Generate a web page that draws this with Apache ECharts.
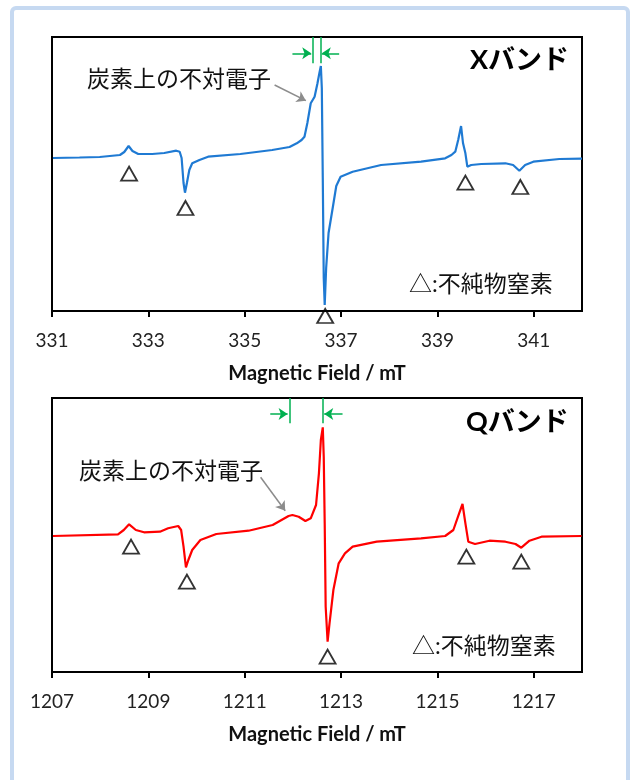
<!DOCTYPE html>
<html>
<head>
<meta charset="utf-8">
<script src="https://cdn.jsdelivr.net/npm/echarts@6/dist/echarts.min.js"></script>
<style>html,body{margin:0;padding:0;background:#fff;}#c{width:630px;height:780px;}</style>
</head>
<body>
<div id="c"></div>
<script>
// ---- X band ----
const xbandField = [331.02,331.57,331.99,332.41,332.50,332.59,332.67,332.79,333.08,333.33,333.58,333.65,333.69,333.73,333.76,333.80,333.85,333.91,334.06,334.24,334.91,335.57,335.93,336.08,336.18,336.24,336.30,336.37,336.45,336.51,336.55,336.58,336.60,336.62,336.64,336.66,336.69,336.74,336.83,336.90,336.99,337.24,337.83,338.66,339.16,339.29,339.37,339.43,339.49,339.53,339.58,339.62,339.70,339.91,340.41,340.57,340.70,340.82,340.99,341.53,342.00];
const xbandSignal = [0,0.5,1,3,6,12,7,4,4,5,7.3,6.3,0,-25,-34.7,-25,-12,-5.3,-2,1.3,4,8,11,14.7,18,21.3,35,54.7,61.3,74.7,85,92,70,-20,-120,-147,-110,-75,-48.7,-28,-18.7,-13.7,-7,-3.7,-0.3,3,6.3,18,32,15,4.7,-8.7,-7,-6,-5.3,-7,-12.7,-7,-3.7,-1,-0.7];
const xbandMarkField = [332.60,333.77,336.67,339.58,340.72];
const xbandMarkSignal = [-15.7,-50,-158,-24.7,-29];
const xbandTicks = [331,333,335,337,339,341];

// ---- Q band ----
const qbandField = [1207.02,1208.37,1208.49,1208.60,1208.74,1208.91,1209.24,1209.41,1209.62,1209.68,1209.73,1209.78,1209.83,1209.91,1210.08,1210.41,1211.08,1211.58,1211.91,1211.99,1212.12,1212.26,1212.37,1212.48,1212.54,1212.58,1212.62,1212.64,1212.66,1212.68,1212.72,1212.76,1212.84,1212.95,1213.08,1213.24,1213.74,1214.66,1215.16,1215.33,1215.45,1215.52,1215.58,1215.64,1215.78,1216.08,1216.41,1216.62,1216.74,1216.91,1217.16,1217.99];
const qbandSignal = [0,1.7,6,11.7,6,3.7,4.3,7.7,10,6,-10.7,-31.3,-24,-14,-4,2,5.3,11,20,21,19.3,15,17.7,31,62.7,96,108.7,79.3,12.7,-70.7,-105.7,-87.3,-54,-27.3,-17.3,-10.7,-5.7,-2.3,0,6,22.7,32,12.7,-5.7,-8,-4.7,-5.7,-8,-11.7,-4.7,-0.7,0];
const qbandMarkField = [1208.64,1209.80,1212.72,1215.60,1216.74];
const qbandMarkSignal = [-10.7,-45.7,-120.7,-20.7,-25.7];
const qbandTicks = [1207,1209,1211,1213,1215,1217];

// annotation anchors (data units)
const xbandWidthLines = [336.41, 336.57];
const qbandWidthLines = [1211.93, 1212.62];

const axisTitle = 'Magnetic Field / mT';
const carbonLabel = '炭素上の不対電子';
const impurityLabel = '△:不純物窒素';

const FONT = 'Lato, "Noto Sans CJK JP", sans-serif';
const GREEN = '#00b050';
const GRAY = '#8c8c8c';

function pairs(xs, ys){ return xs.map((x,i)=>[x, ys[i]]); }

function xAxisCfg(idx, min, max, ticks){
  return {
    type:'value', gridIndex: idx, min: min, max: max,
    name: axisTitle, nameLocation:'middle', nameGap: 53,
    nameTextStyle:{fontFamily:FONT, fontWeight:'bold', fontSize:20, color:'#111'},
    axisLine:{show:true, onZero:false, lineStyle:{color:'#000', width:2}},
    axisTick:{show:true, inside:false, length:6, lineStyle:{color:'#000', width:2}, customValues: ticks},
    axisLabel:{show:true, margin:20, fontFamily:FONT, fontSize:19, color:'#222', customValues: ticks,
               formatter: v => String(v)},
    splitLine:{show:false}
  };
}

function seg(a, b, arrow, color){
  return [
    {coord:a, symbol:'none', lineStyle:{color:color, width:1.5, type:'solid'}},
    {coord:b, symbol: arrow ? 'arrow' : 'none', symbolSize: arrow ? 9 : 0, lineStyle:{color:color, width:1.5, type:'solid'}}
  ];
}

const chart = echarts.init(document.getElementById('c'), null, {renderer:'canvas'});
chart.setOption({
  animation:false,
  backgroundColor:'#fff',
  grid:[
    {left:52, top:37, width:530, height:274, show:true, borderColor:'#000', borderWidth:2, backgroundColor:'transparent'},
    {left:52, top:398, width:530, height:274, show:true, borderColor:'#000', borderWidth:2, backgroundColor:'transparent'}
  ],
  xAxis:[ xAxisCfg(0, 331, 342, xbandTicks), xAxisCfg(1, 1207, 1218, qbandTicks) ],
  yAxis:[
    {type:'value', gridIndex:0, min:-153, max:121, show:false, splitLine:{show:false}},
    {type:'value', gridIndex:1, min:-136, max:138, show:false, splitLine:{show:false}}
  ],
  series:[
    {
      type:'line', xAxisIndex:0, yAxisIndex:0, data: pairs(xbandField, xbandSignal),
      showSymbol:false, symbol:'none', lineStyle:{color:'#1f7ad3', width:2.2}, z:3,
      markLine:{
        silent:true, animation:false, label:{show:false}, symbol:['none','none'],
        data:[
          seg([xbandWidthLines[0], 121], [xbandWidthLines[0], 94.7], false, GREEN),
          seg([xbandWidthLines[1], 121], [xbandWidthLines[1], 94.7], false, GREEN),
          seg([335.99, 104.7], [336.38, 104.7], true, GREEN),
          seg([336.96, 104.7], [336.60, 104.7], true, GREEN),
          seg([335.62, 73], [336.27, 57.3], true, GRAY)
        ]
      }
    },
    {
      type:'scatter', xAxisIndex:0, yAxisIndex:0, data: pairs(xbandMarkField, xbandMarkSignal),
      symbol:'triangle', symbolSize:[16,14], clip:false, z:5,
      itemStyle:{color:'rgba(255,255,255,0)', borderColor:'#000', borderWidth:1.8}
    },
    {
      type:'line', xAxisIndex:1, yAxisIndex:1, data: pairs(qbandField, qbandSignal),
      showSymbol:false, symbol:'none', lineStyle:{color:'#ff0000', width:2.2}, z:3,
      markLine:{
        silent:true, animation:false, label:{show:false}, symbol:['none','none'],
        data:[
          seg([qbandWidthLines[0], 138], [qbandWidthLines[0], 112.7], false, GREEN),
          seg([qbandWidthLines[1], 138], [qbandWidthLines[1], 112.7], false, GREEN),
          seg([1211.53, 122], [1211.89, 122], true, GREEN),
          seg([1213.03, 122], [1212.65, 122], true, GREEN),
          seg([1211.33, 58.7], [1211.84, 25.3], true, GRAY)
        ]
      }
    },
    {
      type:'scatter', xAxisIndex:1, yAxisIndex:1, data: pairs(qbandMarkField, qbandMarkSignal),
      symbol:'triangle', symbolSize:[16,14], clip:false, z:5,
      itemStyle:{color:'rgba(255,255,255,0)', borderColor:'#000', borderWidth:1.8}
    }
  ],
  graphic:[
    {type:'rect', shape:{x:12, y:8, width:616, height:800, r:4}, style:{fill:'none', stroke:'#c6d9f1', lineWidth:4}, z:-10, silent:true},
    {type:'text', left:470, top:47, style:{text:'Xバンド', fontFamily:FONT, fontWeight:'bold', fontSize:27, fill:'#000'}},
    {type:'text', left:87, top:68, style:{text:carbonLabel, fontFamily:FONT, fontSize:23, fill:'#111'}},
    {type:'text', left:409, top:273, style:{text:impurityLabel, fontFamily:FONT, fontSize:23, fill:'#111'}},
    {type:'text', left:466, top:409, style:{text:'Qバンド', fontFamily:FONT, fontWeight:'bold', fontSize:27, fill:'#000'}},
    {type:'text', left:79, top:460, style:{text:carbonLabel, fontFamily:FONT, fontSize:23, fill:'#111'}},
    {type:'text', left:412, top:635, style:{text:impurityLabel, fontFamily:FONT, fontSize:23, fill:'#111'}}
  ]
});
</script>
</body>
</html>
